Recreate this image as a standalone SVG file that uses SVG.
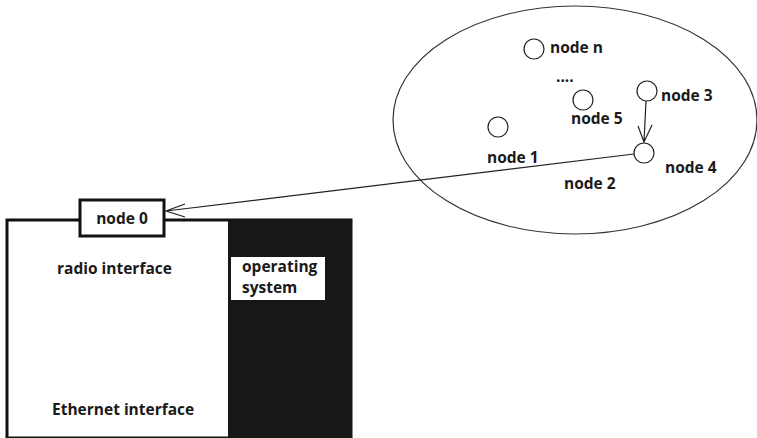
<svg xmlns="http://www.w3.org/2000/svg" width="757" height="438" viewBox="0 0 757 438">
<style>
.t{font-family:"Open Sans","Liberation Sans",sans-serif;font-weight:bold;font-size:15.5px;fill:#1a1a1a}
.c{fill:#fff;stroke:#222;stroke-width:1.2}
.ln{fill:none;stroke:#222;stroke-width:1.2}
</style>
<rect width="757" height="438" fill="#fff"/>
<g id="cluster">
<ellipse cx="575" cy="120" rx="182" ry="114" fill="none" stroke="#333" stroke-width="1.2"/>
</g>
<g id="host">
<rect x="7" y="220" width="344" height="218" fill="#fff" stroke="#111" stroke-width="3"/>
<rect x="228" y="220" width="124" height="218" fill="#171717"/>
</g>
<g id="os">
<rect x="231" y="257" width="94" height="43" fill="#fff"/>
<text class="t" x="242" y="272">operating</text>
<text class="t" x="242" y="293">system</text>
</g>
<g id="radio"><text class="t" x="57" y="274">radio interface</text></g>
<g id="ethernet"><text class="t" x="52" y="415">Ethernet interface</text></g>
<g id="node0">
<rect x="80" y="200" width="84" height="36" fill="#fff" stroke="#111" stroke-width="3"/>
<text class="t" x="122" y="224" text-anchor="middle">node 0</text>
</g>
<g id="noden"><circle class="c" cx="534" cy="49" r="10"/><text class="t" x="550" y="53">node n</text></g>
<g id="dots"><text class="t" x="556" y="82">....</text></g>
<g id="node5"><circle class="c" cx="583" cy="100" r="10"/><text class="t" x="571" y="124">node 5</text></g>
<g id="node3"><circle class="c" cx="647" cy="91" r="10"/><text class="t" x="661" y="101">node 3</text></g>
<g id="node1"><circle class="c" cx="498" cy="127" r="10"/><text class="t" x="487" y="163">node 1</text></g>
<g id="node4"><circle class="c" cx="644" cy="153" r="10"/><text class="t" x="665" y="173">node 4</text></g>
<g id="node2"><text class="t" x="564" y="189">node 2</text></g>
<g id="connectors">
<path class="ln" d="M646 101 L644 142 M638 126 L644 142 L652 125"/>
<path class="ln" d="M634 154 L166 211 M185 204 L166 211 L185 217"/>
</g>
</svg>
